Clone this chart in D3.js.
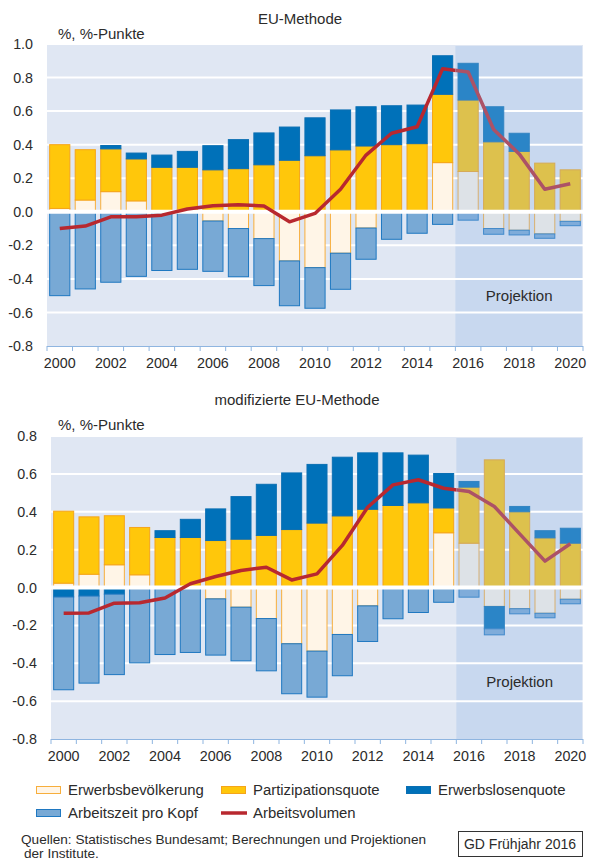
<!DOCTYPE html>
<meta charset="utf-8">
<script src="https://d3js.org/d3.v7.min.js"></script>
<style>
  body { margin: 0; background: #fff; }
  text { font-family: "Liberation Sans", Arial, sans-serif; fill: #2b2b2b; }
</style>
<div id="my_dataviz"></div>
<script>

// years on the x axis, and the labelled ones
var years = [2000, 2001, 2002, 2003, 2004, 2005, 2006, 2007, 2008, 2009, 2010,
             2011, 2012, 2013, 2014, 2015, 2016, 2017, 2018, 2019, 2020];
var yearLabels = [2000, 2002, 2004, 2006, 2008, 2010, 2012, 2014, 2016, 2018, 2020];
var firstProjYear = 2016;

// EU-Methode
var euBev  = [0.02, 0.07, 0.12, 0.065, 0, 0, -0.055, -0.10, -0.16, -0.293, -0.333,
              -0.247, -0.097, 0, 0, 0.293, 0.24, -0.10, -0.11, -0.132, -0.057];
var euPart = [0.38, 0.30, 0.255, 0.25, 0.265, 0.265, 0.25, 0.257, 0.28, 0.307, 0.334,
              0.369, 0.392, 0.40, 0.406, 0.407, 0.426, 0.417, 0.36, 0.29, 0.25];
var euLos  = [0, 0, 0.02, 0.035, 0.073, 0.095, 0.144, 0.173, 0.19, 0.198, 0.226,
              0.238, 0.234, 0.232, 0.23, 0.23, 0.219, 0.209, 0.108, 0, 0];
var euAz   = [-0.50, -0.46, -0.42, -0.385, -0.35, -0.343, -0.30, -0.287, -0.28, -0.267, -0.242,
              -0.215, -0.186, -0.164, -0.128, -0.075, -0.05, -0.034, -0.028, -0.026, -0.026];
var euVol  = [-0.10, -0.085, -0.03, -0.03, -0.02, 0.017, 0.036, 0.042, 0.035, -0.06, -0.01,
              0.134, 0.338, 0.468, 0.507, 0.853, 0.833, 0.49, 0.345, 0.134, 0.167];
var euTicks = [-0.8, -0.6, -0.4, -0.2, 0, 0.2, 0.4, 0.6, 0.8, 1.0];

// modifizierte EU-Methode
var modBev  = [0.023, 0.07, 0.12, 0.067, 0, 0, -0.06, -0.104, -0.164, -0.297, -0.336,
               -0.248, -0.097, 0, 0, 0.289, 0.234, -0.10, -0.112, -0.136, -0.062];
var modPart = [0.38, 0.303, 0.259, 0.25, 0.264, 0.264, 0.248, 0.255, 0.275, 0.306, 0.34,
               0.378, 0.413, 0.433, 0.447, 0.131, 0.296, 0.674, 0.40, 0.262, 0.234];
var modLos  = [-0.05, -0.045, -0.035, 0, 0.036, 0.096, 0.167, 0.225, 0.27, 0.299, 0.31,
               0.31, 0.298, 0.278, 0.252, 0.182, 0.03, -0.118, 0.028, 0.038, 0.079];
var modAz   = [-0.49, -0.46, -0.425, -0.398, -0.354, -0.343, -0.297, -0.283, -0.276, -0.264, -0.243,
               -0.218, -0.188, -0.165, -0.132, -0.078, -0.051, -0.032, -0.027, -0.024, -0.024];
var modVol  = [-0.136, -0.134, -0.083, -0.081, -0.055, 0.02, 0.058, 0.09, 0.107, 0.04, 0.072,
               0.222, 0.424, 0.542, 0.569, 0.524, 0.507, 0.428, 0.283, 0.139, 0.231];
var modTicks = [-0.8, -0.6, -0.4, -0.2, 0, 0.2, 0.4, 0.6, 0.8];

// series styles (stack order: Bev, Part, Los, Az)
var seriesStyle = [
  {name: "Erwerbsbevölkerung",  fill: "#fff5e7", stroke: "#f7ae3c"},
  {name: "Partizipationsquote", fill: "#ffc70b", stroke: "#f5a51a"},
  {name: "Erwerbslosenquote",   fill: "#0071b9", stroke: "#0a6fb3"},
  {name: "Arbeitszeit pro Kopf", fill: "#78a9d5", stroke: "#1f78c1"}
];
var lineColor = "#b8282f";
var bgColor = "#e0e7f3";
var tintColor = "#8fb4e6";
function tint(c) { return d3.interpolateRgb(c, tintColor)(0.3); }

var svg = d3.select("#my_dataviz")
  .append("svg")
    .attr("width", 590)
    .attr("height", 860);

function drawChart(cfg, idx) {
  var x = d3.scaleBand()
    .domain(years)
    .range([cfg.left, cfg.right])
    .paddingInner(0.17)
    .paddingOuter(0.085);
  var y = d3.scaleLinear()
    .domain([cfg.ticks[0], cfg.ticks[cfg.ticks.length - 1]])
    .range([cfg.bottom, cfg.top]);

  var g = svg.append("g");
  var projX = x(firstProjYear) - x.step() * x.paddingInner() / 2;

  // background + projection area
  g.append("rect")
    .attr("x", cfg.left).attr("y", cfg.top)
    .attr("width", cfg.right - cfg.left).attr("height", cfg.bottom - cfg.top)
    .attr("fill", bgColor);
  g.append("rect")
    .attr("x", projX).attr("y", cfg.top + 2)
    .attr("width", cfg.right - 1 - projX).attr("height", cfg.bottom - cfg.top - 2)
    .attr("fill", tint(bgColor));

  // gridlines
  g.selectAll(".grid")
    .data(cfg.ticks.slice(1))
    .enter().append("line")
      .attr("x1", cfg.left).attr("x2", cfg.right)
      .attr("y1", function(d) { return y(d); })
      .attr("y2", function(d) { return y(d); })
      .attr("stroke", "#fff")
      .attr("stroke-width", 2);

  // stacked bars
  var series = [cfg.bev, cfg.part, cfg.los, cfg.az];
  var rects = [];
  years.forEach(function(yr, i) {
    var pos = 0, neg = 0;
    series.forEach(function(s, k) {
      var v = s[i];
      if (v === 0) return;
      var y0, y1;
      if (v > 0) { y0 = pos; y1 = pos + v; pos = y1; }
      else { y0 = neg; y1 = neg + v; neg = y1; }
      rects.push({year: yr, k: k, y0: y0, y1: y1});
    });
  });
  g.selectAll(".bar")
    .data(rects)
    .enter().append("rect")
      .attr("x", function(d) { return x(d.year) + 0.5; })
      .attr("width", x.bandwidth() - 1)
      .attr("y", function(d) { return y(Math.max(d.y0, d.y1)); })
      .attr("height", function(d) { return Math.abs(y(d.y0) - y(d.y1)); })
      .attr("fill", function(d) {
        var c = seriesStyle[d.k].fill;
        return d.year >= firstProjYear ? tint(c) : c; })
      .attr("stroke", function(d) {
        var c = seriesStyle[d.k].stroke;
        return d.year >= firstProjYear ? tint(c) : c; })
      .attr("stroke-width", 1);

  // zero line
  g.append("line")
    .attr("x1", cfg.left).attr("x2", cfg.right)
    .attr("y1", y(0)).attr("y2", y(0))
    .attr("stroke", "#fff").attr("stroke-width", 4);

  // Arbeitsvolumen line, tinted inside the projection area
  var defs = svg.append("defs");
  defs.append("clipPath").attr("id", "hist" + idx)
    .append("rect").attr("x", 0).attr("y", 0).attr("width", projX).attr("height", 860);
  defs.append("clipPath").attr("id", "proj" + idx)
    .append("rect").attr("x", projX).attr("y", 0).attr("width", 590 - projX).attr("height", 860);
  var line = d3.line()
    .x(function(d, i) { return x(years[i]) + x.bandwidth() / 2; })
    .y(function(d) { return y(d); });
  [["hist", lineColor], ["proj", tint(lineColor)]].forEach(function(p) {
    g.append("path")
      .datum(cfg.vol)
      .attr("d", line)
      .attr("clip-path", "url(#" + p[0] + idx + ")")
      .attr("fill", "none")
      .attr("stroke", p[1])
      .attr("stroke-width", 3.5)
      .attr("stroke-linejoin", "round");
  });

  g.append("text")
    .attr("x", (projX + cfg.right) / 2)
    .attr("y", y(-0.5))
    .attr("dy", "0.35em")
    .attr("text-anchor", "middle")
    .style("font-size", "15px")
    .text("Projektion");

  // x axis
  g.append("line")
    .attr("x1", cfg.left).attr("x2", cfg.right)
    .attr("y1", cfg.bottom + 0.5).attr("y2", cfg.bottom + 0.5)
    .attr("stroke", "#8fb5e0");
  var bounds = years.map(function(yr) { return x(yr) - x.step() * x.paddingInner() / 2; });
  bounds.push(cfg.right);
  g.selectAll(".xtick")
    .data(bounds)
    .enter().append("line")
      .attr("x1", function(d) { return d; }).attr("x2", function(d) { return d; })
      .attr("y1", cfg.bottom).attr("y2", cfg.bottom + 5)
      .attr("stroke", "#8fb5e0");
  var xAxis = g.append("g")
    .attr("transform", "translate(0," + cfg.bottom + ")")
    .call(d3.axisBottom(x).tickValues(yearLabels).tickSize(0).tickPadding(12));
  xAxis.select(".domain").remove();
  xAxis.selectAll("text").style("font-size", "14.3px").style("font-family", null).attr("fill", null);

  // y axis
  var yAxis = g.append("g")
    .attr("transform", "translate(" + cfg.left + ",0)")
    .call(d3.axisLeft(y).tickValues(cfg.ticks).tickSize(0).tickPadding(14)
      .tickFormat(function(d) { return d.toFixed(1); }));
  yAxis.select(".domain").remove();
  yAxis.selectAll("text").style("font-size", "14.3px").style("font-family", null).attr("fill", null);

  // titles
  g.append("text")
    .attr("x", cfg.titleX).attr("y", cfg.titleY)
    .attr("text-anchor", "middle")
    .style("font-size", "15px")
    .text(cfg.title);
  g.append("text")
    .attr("x", 58).attr("y", cfg.unitY)
    .style("font-size", "15px")
    .text("%, %-Punkte");
}

drawChart({left: 47, right: 583, top: 44, bottom: 346, ticks: euTicks,
           bev: euBev, part: euPart, los: euLos, az: euAz, vol: euVol,
           title: "EU-Methode", titleX: 300, titleY: 24, unitY: 39}, 0);
drawChart({left: 51, right: 583, top: 436, bottom: 739, ticks: modTicks,
           bev: modBev, part: modPart, los: modLos, az: modAz, vol: modVol,
           title: "modifizierte EU-Methode", titleX: 297, titleY: 405, unitY: 430}, 1);

// legend
var legendItems = [
  {label: seriesStyle[0].name, k: 0, x: 36, y: 790},
  {label: seriesStyle[1].name, k: 1, x: 221, y: 790},
  {label: seriesStyle[2].name, k: 2, x: 406, y: 790},
  {label: seriesStyle[3].name, k: 3, x: 36, y: 813},
  {label: "Arbeitsvolumen", k: -1, x: 221, y: 813}
];
var legend = svg.append("g");
legendItems.forEach(function(d) {
  if (d.k >= 0) {
    legend.append("rect")
      .attr("x", d.x + 0.5).attr("y", d.y - 3.5)
      .attr("width", 24).attr("height", 7)
      .attr("fill", seriesStyle[d.k].fill)
      .attr("stroke", seriesStyle[d.k].stroke);
  } else {
    legend.append("line")
      .attr("x1", d.x).attr("x2", d.x + 26)
      .attr("y1", d.y).attr("y2", d.y)
      .attr("stroke", lineColor).attr("stroke-width", 3.5);
  }
  legend.append("text")
    .attr("x", d.x + 32).attr("y", d.y + 5)
    .style("font-size", "14.9px")
    .text(d.label);
});

// footer
svg.append("text").attr("x", 21).attr("y", 843.5).style("font-size", "13.6px")
  .text("Quellen: Statistisches Bundesamt; Berechnungen und Projektionen");
svg.append("text").attr("x", 24).attr("y", 857.5).style("font-size", "13.6px")
  .text("der Institute.");
svg.append("rect")
  .attr("x", 458.5).attr("y", 831.5).attr("width", 124).attr("height", 25)
  .attr("fill", "none").attr("stroke", "#333");
svg.append("text").attr("x", 520).attr("y", 848.5).attr("text-anchor", "middle")
  .style("font-size", "14px")
  .text("GD Frühjahr 2016");

</script>
